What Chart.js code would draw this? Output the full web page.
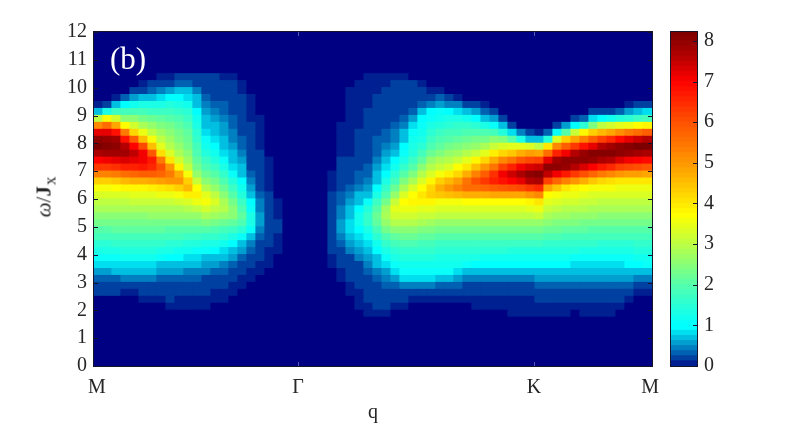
<!DOCTYPE html>
<html>
<head>
<meta charset="utf-8">
<title>Spectral weight</title>
<script src="https://cdn.jsdelivr.net/npm/chart.js@4"></script>
<style>
  html, body { margin: 0; padding: 0; background: #fff; }
  #wrap { position: relative; width: 794px; height: 425px; overflow: hidden; }
  canvas { position: absolute; top: 0; }
  #ylabel {
    position: absolute; left: 44px; top: 197px; white-space: nowrap;
    transform: translate(-50%, -50%) rotate(-90deg);
    font: 21px "Liberation Serif", serif; color: #262626; line-height: 1;
  }
  #ylabel sub { font-size: 17px; vertical-align: -5px; line-height: 0; margin-left: 1px; }
</style>
</head>
<body>
<div id="wrap">
  <canvas id="mapChart" width="794" height="425" style="left:0"></canvas>
  <canvas id="barChart" width="134" height="425" style="left:660px"></canvas>
  <div id="ylabel"><i>ω</i>/<b>J</b><sub>x</sub></div>
</div>
<script>
// ─── DATA ────────────────────────────────────────────────

const qLabels = ['M', 'Γ', 'K', 'M'];
const qTickPositions = [0.33, 22.67, 48.89, 61.78];
const omegaTicks = [0, 1, 2, 3, 4, 5, 6, 7, 8, 9, 10, 11, 12];
const colorbarTicks = [0, 1, 2, 3, 4, 5, 6, 7, 8];

const qColumns = 62;
const omegaStep = 0.25;
const omegaRows = 48;
const firstStoredRow = 6;   // stored lists start at omega = 1.5, missing cells are 0

// one list per q column, intensity in tenths, going up in omega
const intensity = [
  [0,0,0,0,2,3,4,6,9,11,13,15,18,20,23,25,28,30,33,36,43,53,63,70,77,82,80,72,52,30,8,1],
  [0,0,0,0,2,3,4,6,9,11,13,15,18,20,23,25,28,30,33,36,43,53,63,71,78,81,79,72,56,36,13,3],
  [0,0,0,0,2,3,4,7,9,11,13,16,18,21,23,25,28,30,33,37,44,54,64,72,78,80,78,68,48,32,17,7,1],
  [0,0,0,0,1,3,5,7,9,12,14,16,18,21,23,25,28,30,33,38,46,56,66,73,78,76,68,54,37,25,18,10,4],
  [0,0,0,0,1,3,5,7,9,12,14,16,18,21,23,25,28,31,34,38,47,57,66,72,75,70,58,42,32,25,18,12,6,2],
  [0,0,0,1,2,3,5,7,9,12,14,16,18,21,23,25,28,31,34,38,47,58,67,71,71,61,45,35,28,23,18,13,7,3,1],
  [0,0,0,1,2,3,5,7,9,12,14,16,18,21,23,26,28,31,34,39,48,58,65,67,59,45,36,30,26,22,17,13,8,4,2],
  [0,0,0,1,2,3,4,6,8,11,13,16,18,21,23,26,28,31,35,40,49,57,60,54,41,34,30,27,24,21,17,13,9,5,3,1],
  [0,0,1,2,2,3,4,6,8,10,13,15,18,20,23,26,28,31,35,41,50,54,50,40,33,29,27,25,23,20,17,14,10,6,3,1],
  [0,0,1,1,2,3,4,6,8,10,12,15,18,20,23,26,28,32,36,43,50,47,38,32,28,26,24,23,21,19,16,13,10,7,4,2],
  [0,0,1,1,2,3,4,5,7,9,12,14,17,20,23,26,29,33,39,46,43,36,30,27,25,23,22,21,19,17,15,12,9,7,4,2],
  [0,0,1,1,2,3,4,5,7,9,11,14,17,20,23,26,30,35,39,37,31,26,23,21,19,18,16,15,13,12,10,8,7,5,3,2],
  [0,0,1,1,2,2,3,5,6,8,11,13,16,20,24,28,32,36,34,29,25,22,19,17,14,12,11,9,8,7,6,5,4,3,3,2],
  [0,0,0,1,1,2,3,4,6,8,10,13,16,19,23,27,30,33,30,26,23,20,17,14,12,10,9,8,7,6,5,4,3,3,2,2],
  [0,0,0,1,1,2,2,4,5,7,9,12,15,18,22,26,29,28,25,22,19,16,13,11,9,8,7,6,6,5,4,4,3,3,2,1],
  [0,0,0,0,1,1,2,3,4,6,8,10,13,17,21,25,25,23,20,17,14,11,9,8,7,6,5,5,4,4,3,3,3,2,2,1],
  [0,0,0,0,0,1,1,2,3,4,6,8,11,15,19,21,19,17,14,12,10,8,7,6,5,4,4,3,3,3,2,2,2,1,1],
  [0,0,0,0,0,0,1,1,2,3,4,5,8,11,13,13,11,10,8,6,5,4,3,3,3,2,2,2,2,1,1,1,1],
  [0,0,0,0,0,0,0,1,1,2,2,3,4,5,6,6,5,5,4,3,3,2,2,2,2,1,1,1,1,1],
  [0,0,0,0,0,0,0,0,1,1,1,2,2,3,3,3,2,2,2,1,1,1,1,1],
  [0,0,0,0,0,0,0,0,0,0,1,1,1,2,2,1,1,1],
  [],
  [],
  [],
  [],
  [],
  [0,0,0,0,0,0,0,0,1,1,2,2,3,3,3,3,2,2,2,1,1,1],
  [0,0,0,0,0,0,1,1,2,2,3,4,5,6,6,5,5,4,4,3,3,2,2,2,1,1,1,1,1],
  [0,0,0,0,1,1,2,2,3,3,5,6,7,9,9,8,7,6,5,4,3,3,2,2,1,1,1,1,1,1,1,1,1,1],
  [0,0,1,1,1,2,2,3,3,5,6,7,9,10,12,12,10,8,7,5,4,4,3,3,3,2,2,2,1,1,1,1,1,1,1],
  [0,1,1,2,2,2,3,4,5,6,8,9,11,13,16,16,14,11,8,6,5,4,4,3,3,3,2,2,2,2,2,1,1,1,1,1],
  [0,1,2,2,3,3,4,5,7,8,10,12,15,18,21,22,20,17,13,10,8,7,6,5,4,4,4,3,3,2,2,2,2,1,1,1],
  [0,1,2,3,3,4,5,6,9,11,13,16,19,23,26,28,27,23,19,16,13,10,9,7,6,5,4,4,3,3,3,2,2,2,1,1],
  [0,0,1,2,3,4,6,9,11,13,15,18,21,25,29,32,34,31,26,22,18,15,12,10,8,6,5,5,4,3,3,3,2,2,2,1],
  [0,0,1,2,3,5,9,11,12,14,16,19,22,25,29,32,35,37,33,28,24,20,16,13,11,10,8,7,5,4,3,3,3,2,2,1],
  [0,0,0,1,3,5,9,11,12,14,16,19,22,25,29,32,35,38,37,33,28,24,20,17,14,13,12,11,9,6,4,3,3,2,2],
  [0,0,0,1,3,5,9,11,12,14,16,18,21,24,28,31,34,38,40,37,33,29,25,21,18,15,13,12,11,10,7,4,3,2,1],
  [0,0,0,1,2,5,9,11,12,14,16,18,21,24,27,31,34,38,43,42,38,33,29,26,22,19,17,15,13,11,10,5,3,1],
  [0,0,0,1,2,4,8,11,12,13,15,17,20,23,26,30,33,36,44,47,43,36,31,28,24,21,19,17,14,12,11,6,4,1],
  [0,0,0,1,2,4,7,11,12,13,15,17,20,23,26,30,33,36,45,50,46,39,33,29,26,23,20,18,15,13,10,5,2],
  [0,0,0,1,2,4,6,9,12,13,15,17,20,23,26,30,33,36,46,53,49,42,37,31,27,24,21,18,16,13,9,5,1],
  [0,0,0,1,2,3,5,8,11,13,15,17,20,23,26,30,33,37,47,56,55,47,40,34,29,25,22,19,16,12,8,3],
  [0,0,1,1,2,3,5,7,10,13,15,17,20,23,26,30,33,37,47,56,60,53,45,38,31,26,23,19,15,10,6,2],
  [0,0,1,1,2,3,5,7,10,12,15,17,20,23,26,30,33,37,47,57,63,58,50,42,34,28,23,19,13,8,4,1],
  [0,0,1,1,2,3,5,7,10,12,15,17,20,23,26,30,33,37,48,58,66,64,55,47,39,31,25,18,11,6,2],
  [0,0,1,1,2,3,5,7,10,12,15,17,20,23,26,30,33,37,48,59,68,71,62,52,42,33,24,14,7,2],
  [0,1,1,1,2,3,5,7,10,12,14,17,20,23,26,30,33,37,48,60,70,74,66,55,44,34,20,9,3],
  [0,1,1,1,2,3,5,7,10,12,14,17,20,23,26,30,33,37,48,61,72,77,71,59,47,34,13,5],
  [0,1,1,1,2,3,5,7,10,12,14,17,20,23,26,30,34,38,50,63,76,80,73,61,49,33,8,2],
  [0,1,1,2,3,4,6,8,10,12,14,17,20,23,26,31,35,40,52,65,77,81,74,62,48,30,8,1],
  [0,1,1,2,3,4,6,8,10,12,14,16,19,22,25,28,31,34,37,48,62,75,80,72,56,40,14,4],
  [0,1,1,2,3,4,6,8,10,12,14,16,19,22,24,27,30,33,36,44,57,71,80,78,66,52,33,11,3],
  [0,1,1,2,3,4,6,8,10,12,14,16,18,21,24,27,29,32,35,40,53,67,79,80,71,58,43,20,6],
  [0,0,1,2,3,4,6,8,9,11,14,16,18,21,24,26,29,32,35,38,50,63,76,80,76,63,48,31,10,2],
  [0,1,1,2,3,4,6,8,9,11,13,16,18,21,23,26,29,31,34,37,47,60,73,80,79,68,53,38,15,4],
  [0,1,1,2,3,4,6,8,9,11,13,16,18,20,23,26,28,31,33,36,44,57,70,79,81,72,58,43,24,9,2],
  [0,1,1,2,3,4,6,8,9,11,13,15,18,20,23,25,28,30,33,36,42,54,67,77,81,76,62,46,30,10,2],
  [0,1,1,2,3,4,6,8,9,11,13,15,18,20,23,25,28,30,33,36,41,52,65,76,81,78,65,48,32,12,3],
  [0,0,1,2,3,4,6,8,9,11,13,15,18,20,23,25,28,30,33,35,40,50,62,73,80,80,69,51,34,14,4],
  [0,0,0,1,2,4,6,8,10,11,13,15,18,20,23,25,28,30,33,35,40,49,61,71,79,81,72,54,35,15,6,1],
  [0,0,0,0,1,3,5,8,10,12,14,16,18,20,23,25,28,30,33,35,40,49,60,70,78,82,74,56,37,17,8,2],
  [0,0,0,0,1,3,5,8,11,12,14,16,18,20,23,25,28,30,33,35,40,48,59,69,77,82,76,58,38,18,9,3],
];

// ─── COLOUR MAP (the one from the colorbar) ──────────────

const colorStops = [
  [0, 0, 0, 130], [1, 0, 255, 255], [2, 85, 255, 170], [3, 190, 255, 65], [3.7, 255, 255, 0],
  [4.2, 255, 215, 0], [5, 255, 150, 0], [6, 255, 80, 0], [7, 255, 0, 0], [7.6, 180, 0, 0], [8.25, 120, 0, 0],
];

function colorFor(v) {
  // below 1 the reference map is banded
  if (v < 1) v = Math.round(v * 8) / 8;
  let i = 0;
  while (i < colorStops.length - 2 && v > colorStops[i + 1][0]) i++;
  const a = colorStops[i], b = colorStops[i + 1];
  const t = Math.min(1, Math.max(0, (v - a[0]) / (b[0] - a[0])));
  const mix = k => Math.round(a[k] + (b[k] - a[k]) * t);
  return `rgb(${mix(1)},${mix(2)},${mix(3)})`;
}

function cellValue(col, row) {
  return (intensity[col][row - firstStoredRow] || 0) / 10;
}

// ─── CHARTS ──────────────────────────────────────────────

const serif = '"Liberation Serif", "Times New Roman", serif';
const textColor = '#262626';

function drawFrame(chart, scale, ticks, both) {
  const { ctx, chartArea: a } = chart;
  ctx.save();
  ctx.strokeStyle = '#14142a';
  ctx.lineWidth = 1;
  ctx.strokeRect(a.left - 0.5, a.top - 0.5, a.right - a.left + 1, a.bottom - a.top + 1);
  ticks.forEach(t => {
    const y = Math.round(scale.getPixelForValue(t)) + 0.5;
    ctx.beginPath();
    ctx.moveTo(a.right, y); ctx.lineTo(a.right - 4, y);
    if (both) { ctx.moveTo(a.left, y); ctx.lineTo(a.left + 4, y); }
    ctx.stroke();
  });
  ctx.restore();
}

const mapOverlay = {
  id: 'mapOverlay',
  afterDatasetsDraw(chart) {
    const { ctx, chartArea: a, scales } = chart;
    drawFrame(chart, scales.y, omegaTicks, true);
    ctx.save();
    // faint inner ticks at the two middle q points
    ctx.strokeStyle = 'rgba(190,200,230,0.45)';
    [qTickPositions[1], qTickPositions[2]].forEach(q => {
      const x = Math.round(scales.x.getPixelForValue(q)) + 0.5;
      ctx.beginPath();
      ctx.moveTo(x, a.bottom); ctx.lineTo(x, a.bottom - 4);
      ctx.moveTo(x, a.top); ctx.lineTo(x, a.top + 4);
      ctx.stroke();
    });
    ctx.fillStyle = '#fff';
    ctx.font = `31px ${serif}`;
    ctx.textBaseline = 'alphabetic';
    ctx.fillText('(b)', a.left + 16, a.top + 37);
    ctx.restore();
  }
};

function initMapChart() {
  const datasets = [];
  for (let r = 0; r < omegaRows; r++) {
    const lo = r * omegaStep, data = [], colors = [];
    for (let c = 0; c < qColumns; c++) {
      data.push({ x: c + 0.5, y: [lo, lo + omegaStep] });
      colors.push(colorFor(cellValue(c, r)));
    }
    datasets.push({
      data,
      backgroundColor: colors,
      borderWidth: 0,
      inflateAmount: 0.6,
      grouped: false,
      barPercentage: 1,
      categoryPercentage: 1,
    });
  }

  new Chart(document.getElementById('mapChart'), {
    type: 'bar',
    data: { datasets },
    plugins: [mapOverlay],
    options: {
      responsive: false,
      animation: false,
      devicePixelRatio: 1,
      layout: { padding: { top: 32, right: 142, left: 0, bottom: 0 } },
      plugins: { legend: { display: false }, tooltip: { enabled: false } },
      scales: {
        x: {
          type: 'linear',
          offset: false,
          min: 0,
          max: qColumns,
          afterBuildTicks: axis => { axis.ticks = qTickPositions.map(value => ({ value })); },
          afterFit: axis => { axis.height = 59; },
          grid: { display: false, drawTicks: false, offset: false },
          border: { display: false },
          ticks: {
            autoSkip: false,
            maxRotation: 0,
            padding: 10,
            color: textColor,
            font: { family: serif, size: 20 },
            callback: (v, i) => qLabels[i],
          },
          title: {
            display: true,
            text: 'q',
            color: textColor,
            font: { family: serif, size: 20 },
            padding: 0,
          },
        },
        y: {
          type: 'linear',
          min: 0,
          max: 12,
          afterBuildTicks: axis => { axis.ticks = omegaTicks.map(value => ({ value })); },
          afterFit: axis => { axis.width = 94; },
          grid: { display: false, drawTicks: false },
          border: { display: false },
          ticks: {
            padding: 7,
            color: textColor,
            font: { family: serif, size: 20 },
          },
        },
      },
    },
  });
}

function initColorbar() {
  const levelStep = 0.125, top = 8.22;
  const datasets = [];
  for (let lo = 0; lo < top; lo += levelStep) {
    datasets.push({
      data: [[lo, lo + levelStep]],
      backgroundColor: colorFor(lo + levelStep / 2),
      borderWidth: 0,
      inflateAmount: 0.6,
      grouped: false,
      barPercentage: 1,
      categoryPercentage: 1,
    });
  }

  new Chart(document.getElementById('barChart'), {
    type: 'bar',
    data: { labels: ['intensity'], datasets },
    plugins: [{
      id: 'barOverlay',
      afterDatasetsDraw: chart => drawFrame(chart, chart.scales.y, colorbarTicks, false),
    }],
    options: {
      responsive: false,
      animation: false,
      devicePixelRatio: 1,
      layout: { padding: { top: 32, left: 11, right: 0, bottom: 59 } },
      plugins: { legend: { display: false }, tooltip: { enabled: false } },
      scales: {
        x: { display: false },
        y: {
          position: 'right',
          min: 0,
          max: top,
          afterBuildTicks: axis => { axis.ticks = colorbarTicks.map(value => ({ value })); },
          afterFit: axis => { axis.width = 97; },
          grid: { display: false, drawTicks: false },
          border: { display: false },
          ticks: {
            padding: 7,
            color: textColor,
            font: { family: serif, size: 20 },
          },
        },
      },
    },
  });
}

initMapChart();
initColorbar();
</script>
</body>
</html>
